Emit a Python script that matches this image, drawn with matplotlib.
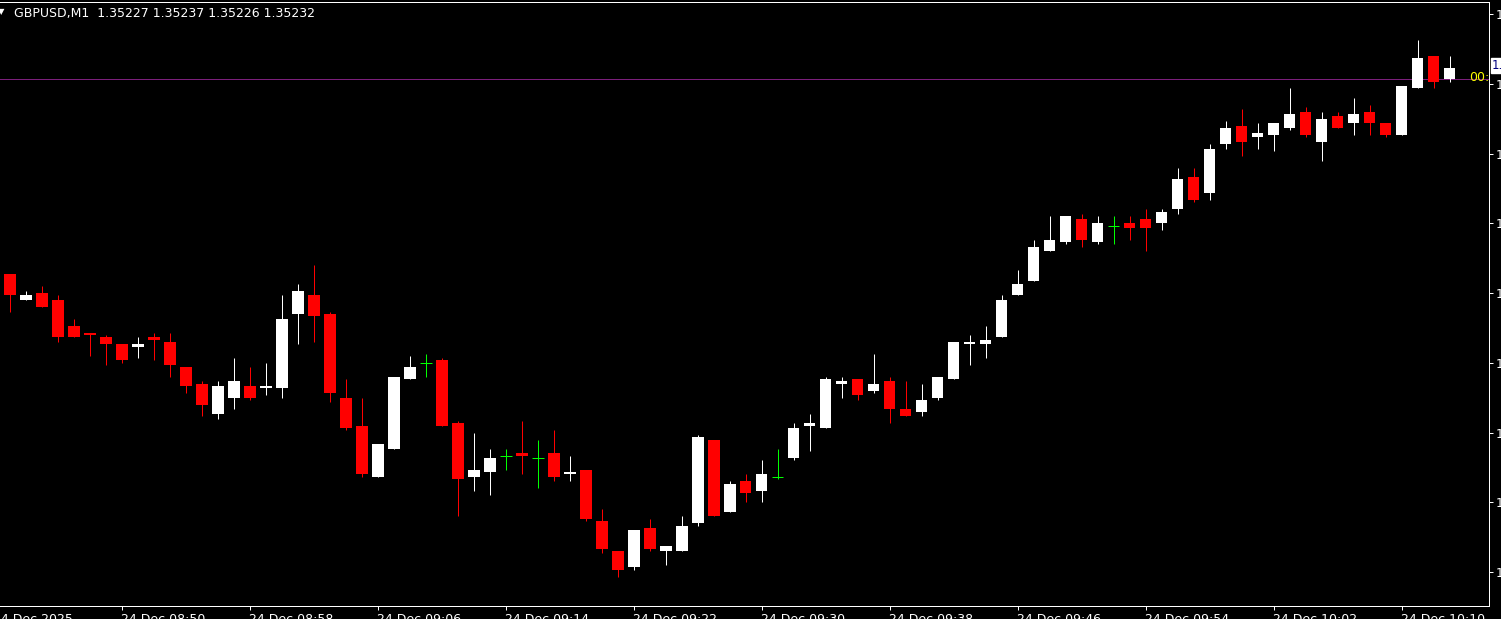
import matplotlib.pyplot as plt
import pandas as pd

symbol = 'GBPUSD,M1'
first_bar = '2025-12-24 08:43'

opens = [1.35143, 1.35132, 1.35135, 1.35132, 1.35121, 1.35118, 1.35116, 1.35113, 1.35112, 1.35116,
         1.35114, 1.35103, 1.35096, 1.35083, 1.35090, 1.35095, 1.35094, 1.35094, 1.35126, 1.35134,
         1.35126, 1.35090, 1.35078, 1.35056, 1.35068, 1.35098, 1.35105, 1.35106, 1.35079, 1.35056,
         1.35058, 1.35065, 1.35066, 1.35064, 1.35066, 1.35057, 1.35059, 1.35037, 1.35024, 1.35017,
         1.35034, 1.35024, 1.35024, 1.35036, 1.35072, 1.35041, 1.35054, 1.35050, 1.35056, 1.35064,
         1.35078, 1.35077, 1.35096, 1.35098, 1.35093, 1.35097, 1.35085, 1.35084, 1.35090, 1.35098,
         1.35113, 1.35113, 1.35116, 1.35134, 1.35140, 1.35153, 1.35157, 1.35167, 1.35157, 1.35164,
         1.35165, 1.35167, 1.35165, 1.35171, 1.35185, 1.35178, 1.35199, 1.35207, 1.35202, 1.35203,
         1.35206, 1.35213, 1.35200, 1.35211, 1.35208, 1.35213, 1.35208, 1.35203, 1.35223, 1.35237,
         1.35227]
highs = [1.35143, 1.35136, 1.35138, 1.35134, 1.35124, 1.35118, 1.35117, 1.35113, 1.35116, 1.35118,
         1.35118, 1.35103, 1.35097, 1.35097, 1.35107, 1.35103, 1.35105, 1.35134, 1.35139, 1.35147,
         1.35127, 1.35098, 1.35090, 1.35070, 1.35099, 1.35108, 1.35109, 1.35107, 1.35080, 1.35075,
         1.35068, 1.35068, 1.35080, 1.35072, 1.35076, 1.35065, 1.35059, 1.35042, 1.35024, 1.35033,
         1.35038, 1.35026, 1.35039, 1.35074, 1.35072, 1.35054, 1.35057, 1.35063, 1.35068, 1.35079,
         1.35083, 1.35099, 1.35099, 1.35098, 1.35109, 1.35099, 1.35097, 1.35096, 1.35099, 1.35114,
         1.35117, 1.35121, 1.35134, 1.35145, 1.35158, 1.35168, 1.35168, 1.35169, 1.35168, 1.35168,
         1.35168, 1.35171, 1.35171, 1.35189, 1.35189, 1.35199, 1.35209, 1.35214, 1.35208, 1.35208,
         1.35223, 1.35215, 1.35213, 1.35213, 1.35219, 1.35216, 1.35208, 1.35224, 1.35244, 1.35237,
         1.35237]
lows = [1.35127, 1.35132, 1.35129, 1.35114, 1.35116, 1.35108, 1.35104, 1.35105, 1.35107, 1.35106,
        1.35099, 1.35092, 1.35082, 1.35081, 1.35085, 1.35089, 1.35091, 1.35090, 1.35113, 1.35114,
        1.35088, 1.35076, 1.35056, 1.35056, 1.35068, 1.35098, 1.35099, 1.35078, 1.35039, 1.35050,
        1.35048, 1.35059, 1.35057, 1.35051, 1.35054, 1.35054, 1.35037, 1.35023, 1.35013, 1.35016,
        1.35024, 1.35018, 1.35024, 1.35035, 1.35039, 1.35041, 1.35045, 1.35045, 1.35055, 1.35063,
        1.35067, 1.35077, 1.35090, 1.35089, 1.35092, 1.35079, 1.35082, 1.35082, 1.35089, 1.35098,
        1.35104, 1.35107, 1.35116, 1.35134, 1.35140, 1.35153, 1.35156, 1.35155, 1.35156, 1.35156,
        1.35158, 1.35153, 1.35162, 1.35169, 1.35174, 1.35175, 1.35197, 1.35194, 1.35197, 1.35196,
        1.35205, 1.35202, 1.35192, 1.35206, 1.35203, 1.35203, 1.35202, 1.35203, 1.35223, 1.35223,
        1.35226]
closes = [1.35134, 1.35134, 1.35129, 1.35116, 1.35116, 1.35117, 1.35113, 1.35106, 1.35113, 1.35115,
          1.35104, 1.35095, 1.35087, 1.35095, 1.35097, 1.35090, 1.35095, 1.35124, 1.35136, 1.35125,
          1.35092, 1.35077, 1.35057, 1.35070, 1.35099, 1.35103, 1.35105, 1.35078, 1.35055, 1.35059,
          1.35064, 1.35065, 1.35065, 1.35064, 1.35056, 1.35058, 1.35038, 1.35025, 1.35016, 1.35033,
          1.35025, 1.35026, 1.35035, 1.35073, 1.35039, 1.35053, 1.35049, 1.35057, 1.35056, 1.35077,
          1.35079, 1.35098, 1.35097, 1.35091, 1.35096, 1.35085, 1.35082, 1.35089, 1.35099, 1.35114,
          1.35114, 1.35115, 1.35132, 1.35139, 1.35155, 1.35158, 1.35168, 1.35158, 1.35165, 1.35164,
          1.35163, 1.35163, 1.35170, 1.35184, 1.35175, 1.35197, 1.35206, 1.35200, 1.35204, 1.35208,
          1.35212, 1.35203, 1.35210, 1.35206, 1.35212, 1.35208, 1.35203, 1.35224, 1.35236, 1.35226,
          1.35232]

price_ticks = [1.35015, 1.35045, 1.35075, 1.35105, 1.35135, 1.35165, 1.35195, 1.35225, 1.35255]
hline_price = 1.35227

W, H = 1501, 619
BULL, BEAR, DOJI = 'white', '#ff0000', '#00ff00'
PX = 72 / 100  # one pixel in points


def candle_color(o, c):
    if c > o:
        return BULL
    if c < o:
        return BEAR
    return DOJI


def main():
    n = len(closes)
    bars = pd.date_range(first_bar, periods=n, freq='min')
    xs = list(range(n))
    cols = [candle_color(o, c) for o, c in zip(opens, closes)]

    fig = plt.figure(figsize=(W / 100, H / 100), dpi=100, facecolor='black')
    ax = fig.add_axes([0, (H - 606) / H, 1489 / W, (606 - 2) / H])
    ax.set_facecolor('black')

    # wicks then bodies
    ax.vlines(xs, lows, highs, colors=cols, linewidth=PX, zorder=2)
    body_x = [x for x, o, c in zip(xs, opens, closes) if o != c]
    body_b = [min(o, c) for o, c in zip(opens, closes) if o != c]
    body_h = [abs(c - o) for o, c in zip(opens, closes) if o != c]
    body_c = [col for col, o, c in zip(cols, opens, closes) if o != c]
    ax.bar(body_x, body_h, bottom=body_b, width=0.69, color=body_c,
           linewidth=0, zorder=3)
    doji = [(x, o) for x, o, c in zip(xs, opens, closes) if o == c]
    ax.hlines([d[1] for d in doji], [d[0] - 0.345 for d in doji],
              [d[0] + 0.345 for d in doji], colors=DOJI, linewidth=PX, zorder=3)

    ax.axhline(hline_price, color='#7b1f7b', linewidth=PX, zorder=1)

    ax.set_xlim(-0.625, 92.44)
    ax.set_ylim(1.350004, 1.352602)

    for s in ['top', 'right', 'bottom']:
        ax.spines[s].set_color('white')
        ax.spines[s].set_linewidth(PX)
    ax.spines['left'].set_visible(False)

    ax.yaxis.tick_right()
    ax.set_yticks(price_ticks)
    ax.set_yticklabels([f'{p:.5f}' for p in price_ticks])
    ax.tick_params(axis='y', colors='white', length=3, width=PX, pad=2,
                   labelsize=9)

    # time scale: one label every 8 bars
    tick_idx = [i for i in range(n) if i % 8 == 7]
    ax.set_xticks(tick_idx)
    ax.set_xticklabels([])
    ax.tick_params(axis='x', colors='white', length=3, width=PX)
    for i in tick_idx:
        ax.annotate(bars[i].strftime('%d %b %H:%M'), xy=(i - 0.06, 0),
                    xycoords=('data', 'axes fraction'), xytext=(0, -7),
                    textcoords='offset pixels', ha='left', va='top',
                    color='white', fontsize=9, annotation_clip=False)
    ax.annotate(bars[0].strftime('%d %b %Y'), xy=(-1.06, 0),
                xycoords=('data', 'axes fraction'), xytext=(0, -7),
                textcoords='offset pixels', ha='left', va='top',
                color='white', fontsize=9, annotation_clip=False)

    # current price label and bar timer
    ax.annotate(f'{closes[-1]:.5f}', xy=(1, closes[-1]),
                xycoords=('axes fraction', 'data'), xytext=(3, 2),
                textcoords='offset pixels', ha='left', va='center',
                color='#000080', fontsize=8.5, annotation_clip=False,
                bbox=dict(boxstyle='square,pad=0.12', fc='white', ec='white'))
    ax.annotate('00:', xy=(1, hline_price), xycoords=('axes fraction', 'data'),
                xytext=(0, 2), textcoords='offset pixels', ha='right',
                va='center', color='#ffff00', fontsize=9)

    header = f'{symbol}  {opens[-1]:.5f} {highs[-1]:.5f} {lows[-1]:.5f} {closes[-1]:.5f}'
    fig.text(14 / W, 1 - 13 / H, header, color='white', fontsize=9, va='center')
    fig.text(-2 / W, 1 - 12 / H, '\u25bc', color='white', fontsize=6, va='center')

    fig.savefig('out.png', dpi=100, facecolor='black')


if __name__ == '__main__':
    main()
